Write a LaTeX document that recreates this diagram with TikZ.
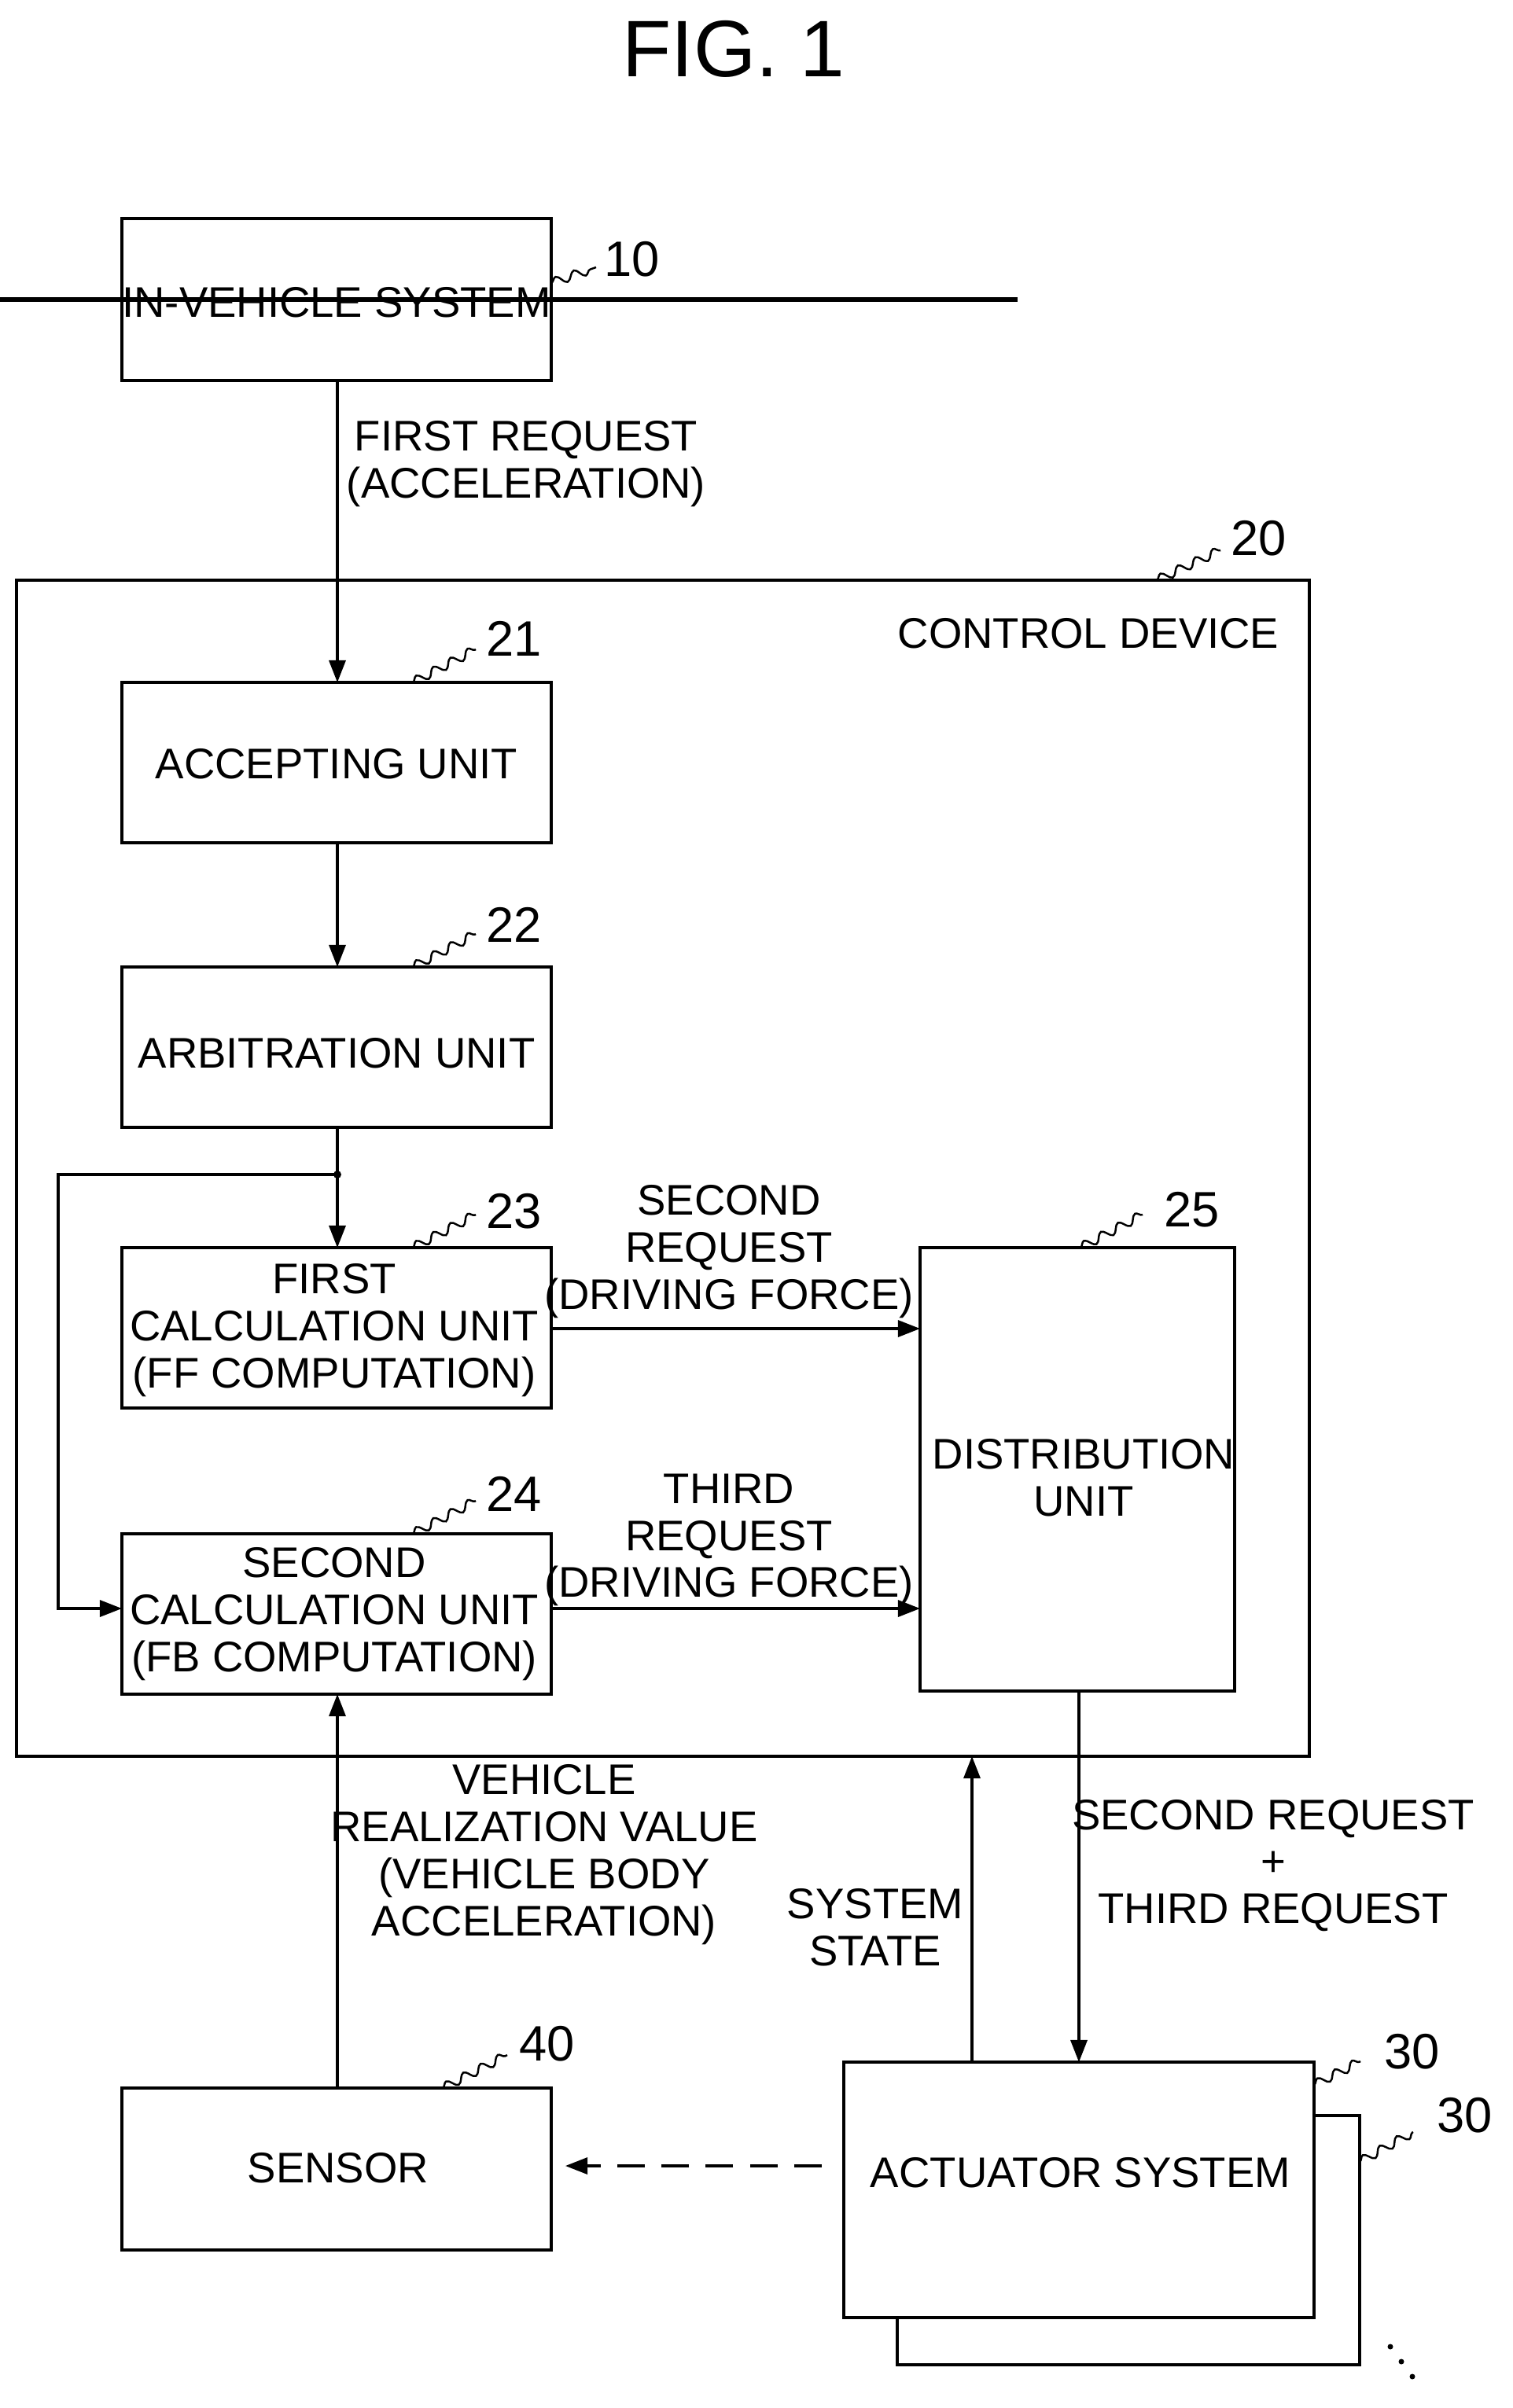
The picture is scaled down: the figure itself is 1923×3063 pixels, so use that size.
\documentclass[tikz,border=0pt]{standalone}
\usepackage{fontspec}
\setmainfont{Liberation Sans}
\usetikzlibrary{arrows.meta,decorations.pathmorphing}
\begin{document}
\begin{tikzpicture}[x=0.01cm,y=-0.01cm,
  every node/.style={font=\fontsize{15.5}{17}\selectfont,align=center,inner sep=0},
  box/.style={draw,line width=0.9pt},
  ar/.style={line width=0.9pt,-{Triangle[length=8pt,width=6pt]}},
  sq/.style={line width=0.7pt,decorate,decoration={snake,amplitude=1.6pt,segment length=7pt}},
  num/.style={font=\fontsize{18}{20}\selectfont,anchor=west}]
\useasboundingbox (0,0) rectangle (1923,3063);
\node at (933,62) {\fontsize{29}{32}\selectfont FIG. 1};
\node[box,minimum width=546\pgflinewidth] (ivs) at (428,381) {};
\draw[box] (155,278) rectangle (701,484);
\coordinate (ivsb) at (429,484);
\node at (428,385) {IN-VEHICLE SYSTEM};
\draw[box] (21,738) rectangle (1665,2234);
\node at (1384,806) {CONTROL DEVICE};
% boxes
\draw[box] (155,868) rectangle (701,1072); \node (acc) at (428,972) {ACCEPTING UNIT};
\draw[box] (155,1230) rectangle (701,1434); \node (arb) at (428,1340) {ARBITRATION UNIT};
\draw[box] (155,1587) rectangle (701,1791); \node (fc) at (425,1692) {FIRST\\CALCULATION UNIT\\(FF COMPUTATION)};
\draw[box] (155,1951) rectangle (701,2155); \node (sc) at (425,2053) {SECOND\\CALCULATION UNIT\\(FB COMPUTATION)};
\draw[box] (1170,1587) rectangle (1570,2151); \node (du) at (1378,1880) {DISTRIBUTION\\UNIT};
\draw[box] (155,2656) rectangle (701,2862); \node (sen) at (430,2758) {SENSOR};
\draw[box] (1141,2948) -- (1141,3008) -- (1729,3008) -- (1729,2691) -- (1671,2691);
\draw[box] (1073,2623) rectangle (1671,2948); \node (act) at (1374,2764) {ACTUATOR SYSTEM};
\fill (1768,2985) circle (3.5) (1782,3004) circle (3.5) (1796,3023) circle (3.5);
% connectors
\coordinate (j) at (429,1494);
\draw[ar] (429,484) -- (429,868);
\draw[ar] (429,1072) -- (429,1230);
\draw[ar] (429,1434) -- (429,1587);
\fill (j) circle (5);
\draw[ar] (j) -- (74,1494) -- (74,2046) -- (155,2046);
\draw[ar] (701,1690) -- (1170,1690);
\draw[ar] (701,2046) -- (1170,2046);
\draw[ar] (1372,2151) -- (1372,2623);
\draw[ar] (1236,2623) -- (1236,2234);
\draw[ar] (429,2656) -- (429,2155);
\draw[ar,dashed,dash pattern=on 10pt off 6pt] (1045,2755) -- (719,2755);
% labels
\node at (669,590) {FIRST REQUEST\\(ACCELERATION)};
\node at (927,1592) {SECOND\\REQUEST\\(DRIVING FORCE)};
\node at (927,1959) {THIRD\\REQUEST\\(DRIVING FORCE)};
\node at (692,2359) {VEHICLE\\REALIZATION VALUE\\(VEHICLE BODY\\ACCELERATION)};
\node at (1113,2452) {SYSTEM\\STATE};
\node at (1619,2373) {SECOND REQUEST\\+\\THIRD REQUEST};
% reference numbers
\draw[sq] (701,360) -- (758,340); \node[num] at (768,330) {10};
\draw[sq] (1471,738) -- (1552,700); \node[num] at (1565,685) {20};
\draw[sq] (525,868) -- (605,826); \node[num] at (618,812) {21};
\draw[sq] (525,1230) -- (605,1188); \node[num] at (618,1176) {22};
\draw[sq] (525,1587) -- (605,1545); \node[num] at (618,1541) {23};
\draw[sq] (525,1951) -- (605,1909); \node[num] at (618,1900) {24};
\draw[sq] (1374,1587) -- (1453,1545); \node[num] at (1480,1539) {25};
\draw[sq] (563,2656) -- (645,2614); \node[num] at (660,2600) {40};
\draw[sq] (1671,2652) -- (1730,2622); \node[num] at (1760,2610) {30};
\draw[sq] (1729,2750) -- (1797,2712); \node[num] at (1827,2691) {30};
\end{tikzpicture}
\end{document}
